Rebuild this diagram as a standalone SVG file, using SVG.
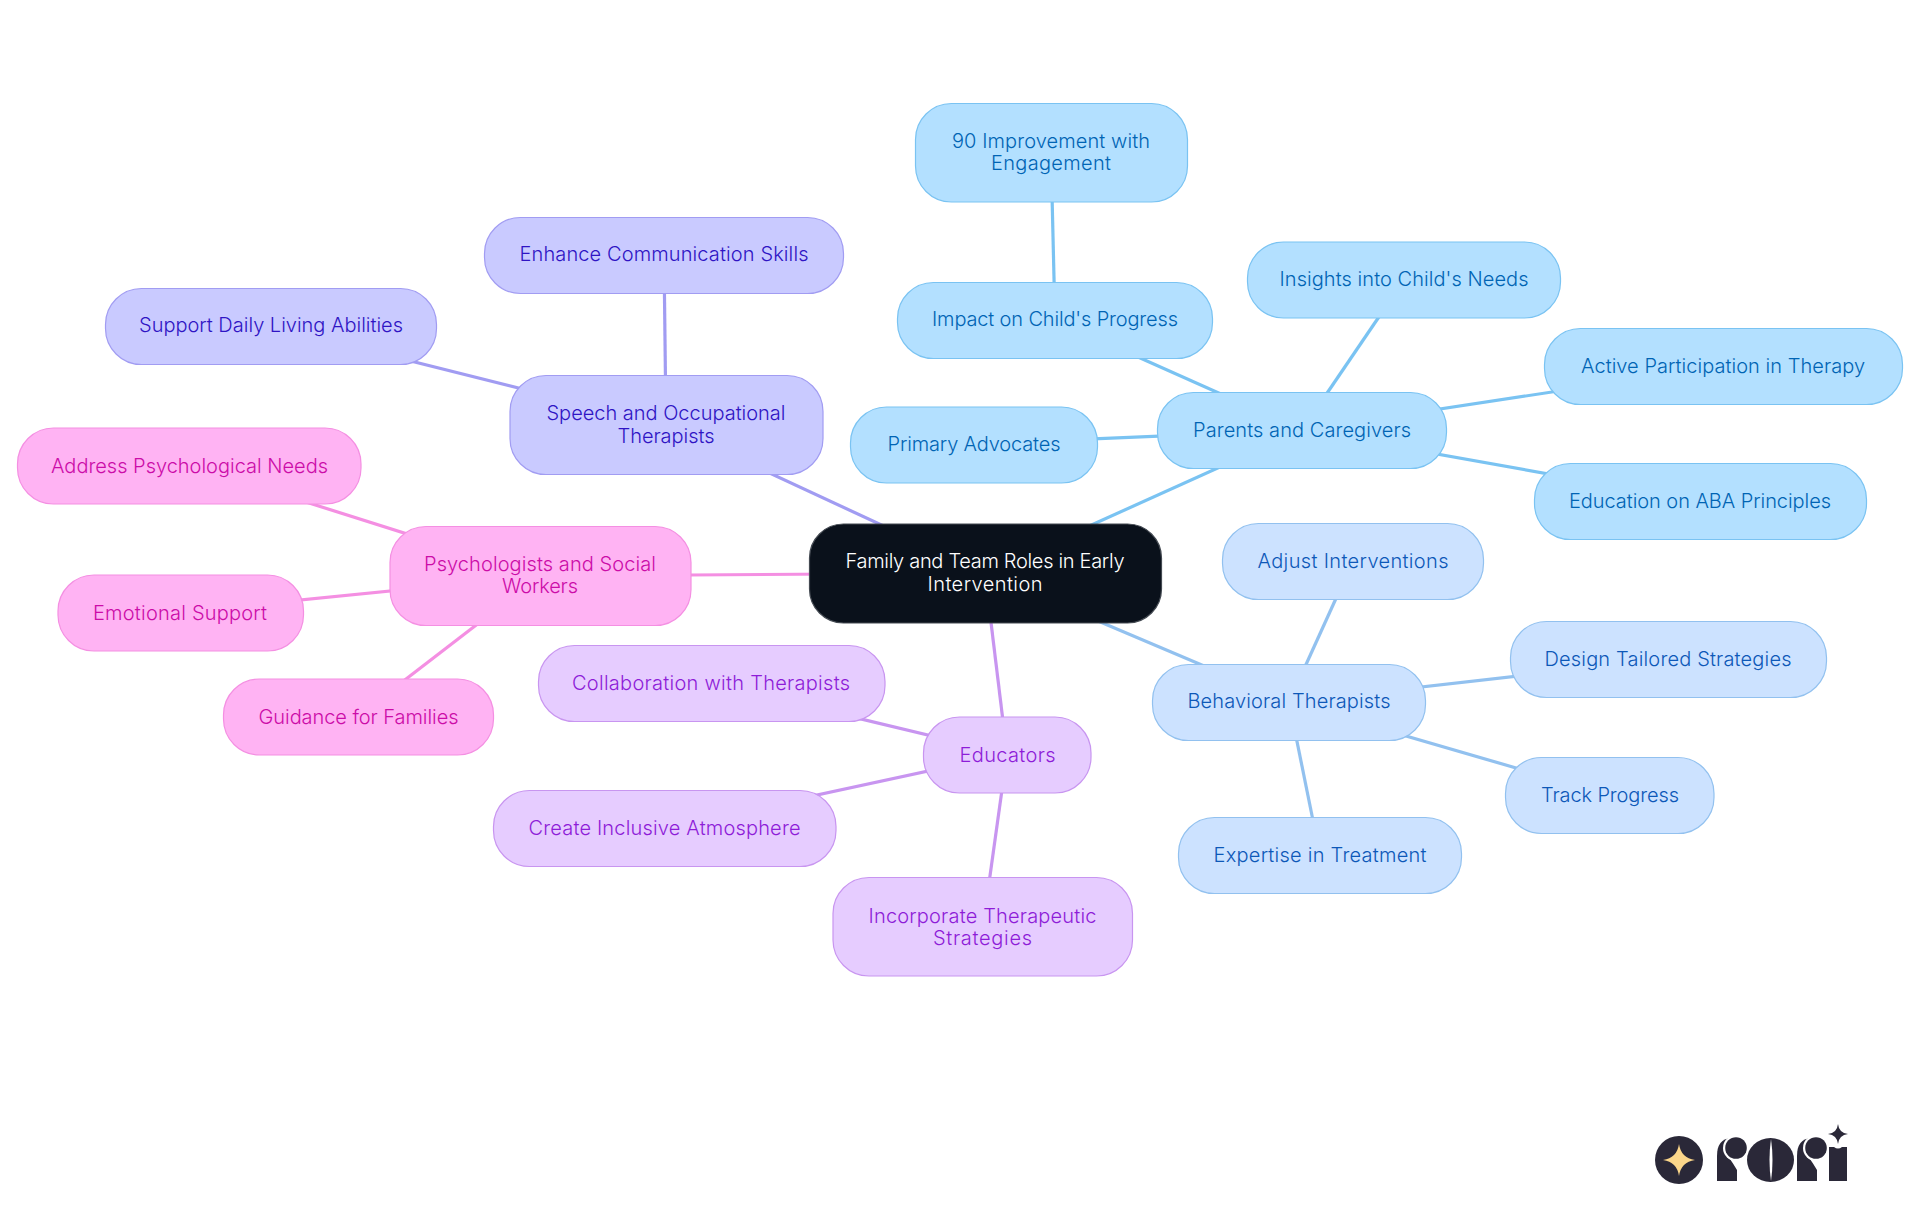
<svg xmlns="http://www.w3.org/2000/svg" width="1920" height="1215" viewBox="0 0 1920 1215">
<style>
text{font-family:"Inter","Noto Sans","Liberation Sans",sans-serif;font-size:20px;font-weight:300;text-anchor:middle}
rect{stroke-width:1.2}
line{stroke-width:3.2;fill:none}
.b rect{fill:#b3e0ff;stroke:#7ac3f2}.b text{fill:#0064b4}
.c rect{fill:#cce2ff;stroke:#92c1ef}.c text{fill:#0d58b8}
.t rect{fill:#c9caff;stroke:#a19cf2}.t text{fill:#2f14c4}
.p rect{fill:#ffb3f3;stroke:#f48fe2}.p text{fill:#cc0ca8}
.e rect{fill:#e6ccff;stroke:#c895f0}.e text{fill:#8e1cd8}
.lb{stroke:#7ac3f2}.lc{stroke:#92c1ef}.lt{stroke:#a19cf2}.lp{stroke:#f48fe2}.le{stroke:#c895f0}
</style>
<rect width="1920" height="1215" fill="#fff" style="stroke:none"/>
<g id="connectors">
<line class="lb" x1="985" y1="573" x2="1302" y2="430"/>
<line class="lb" x1="1302" y1="430" x2="1055" y2="320"/>
<line class="lb" x1="1055" y1="320" x2="1051" y2="152"/>
<line class="lb" x1="1302" y1="430" x2="974" y2="444"/>
<line class="lb" x1="1302" y1="430" x2="1404" y2="280"/>
<line class="lb" x1="1302" y1="430" x2="1723" y2="366"/>
<line class="lb" x1="1302" y1="430" x2="1700" y2="501"/>
<line class="lc" x1="985" y1="573" x2="1289" y2="702"/>
<line class="lc" x1="1289" y1="702" x2="1353" y2="561"/>
<line class="lc" x1="1289" y1="702" x2="1668" y2="659"/>
<line class="lc" x1="1289" y1="702" x2="1609" y2="795"/>
<line class="lc" x1="1289" y1="702" x2="1320" y2="855"/>
<line class="le" x1="985" y1="573" x2="1007" y2="754"/>
<line class="le" x1="1007" y1="754" x2="711" y2="683"/>
<line class="le" x1="1007" y1="754" x2="664" y2="828"/>
<line class="le" x1="1007" y1="754" x2="983" y2="926"/>
<line class="lp" x1="985" y1="573" x2="540" y2="576"/>
<line class="lp" x1="540" y1="576" x2="189" y2="465"/>
<line class="lp" x1="540" y1="576" x2="181" y2="612"/>
<line class="lp" x1="540" y1="576" x2="358" y2="716"/>
<line class="lt" x1="985" y1="573" x2="666" y2="425"/>
<line class="lt" x1="666" y1="425" x2="664" y2="255"/>
<line class="lt" x1="666" y1="425" x2="271" y2="326"/>
</g>
<g id="root"><rect x="809.500" y="524" width="352" height="99" rx="34" fill="#0a111b" stroke="#444a52"/><text x="985" y="568" fill="#fff" textLength="279">Family and Team Roles in Early</text><text x="985" y="591" fill="#fff" textLength="115">Intervention</text></g>
<g id="parents" class="b"><rect x="1157.500" y="392.500" width="289" height="76" rx="36"/><text x="1302" y="437" textLength="218">Parents and Caregivers</text></g>
<g id="primary" class="b"><rect x="850.500" y="407" width="247" height="76" rx="36"/><text x="974" y="451" textLength="173">Primary Advocates</text></g>
<g id="impact" class="b"><rect x="897.500" y="282.500" width="315" height="76" rx="36"/><text x="1055" y="326" textLength="246">Impact on Child's Progress</text></g>
<g id="improvement" class="b"><rect x="915.500" y="103.500" width="272" height="98.500" rx="36"/><text x="1051" y="148" textLength="198">90 Improvement with</text><text x="1051" y="170" textLength="120">Engagement</text></g>
<g id="insights" class="b"><rect x="1247.500" y="242" width="313" height="76" rx="36"/><text x="1404" y="286" textLength="249">Insights into Child's Needs</text></g>
<g id="active" class="b"><rect x="1544.500" y="328.500" width="358" height="76" rx="36"/><text x="1723" y="373" textLength="284">Active Participation in Therapy</text></g>
<g id="education" class="b"><rect x="1534.500" y="463.500" width="332" height="76" rx="36"/><text x="1700" y="508" textLength="262">Education on ABA Principles</text></g>
<g id="behavioral" class="c"><rect x="1152.500" y="664.500" width="273" height="76" rx="36"/><text x="1289" y="708" textLength="203">Behavioral Therapists</text></g>
<g id="adjust" class="c"><rect x="1222.500" y="523.500" width="261" height="76" rx="36"/><text x="1353" y="568" textLength="191">Adjust Interventions</text></g>
<g id="design" class="c"><rect x="1510.500" y="621.500" width="316" height="76" rx="36"/><text x="1668" y="666" textLength="247">Design Tailored Strategies</text></g>
<g id="track" class="c"><rect x="1505.500" y="757.500" width="208.500" height="76" rx="36"/><text x="1610" y="802" textLength="138">Track Progress</text></g>
<g id="expertise" class="c"><rect x="1178.500" y="817.500" width="283" height="76" rx="36"/><text x="1320" y="862" textLength="213">Expertise in Treatment</text></g>
<g id="educators" class="e"><rect x="923.500" y="717" width="167.500" height="76" rx="36"/><text x="1007.500" y="762" textLength="96">Educators</text></g>
<g id="collab" class="e"><rect x="538.500" y="645.500" width="346.500" height="76" rx="36"/><text x="711" y="690" textLength="278">Collaboration with Therapists</text></g>
<g id="create" class="e"><rect x="493.500" y="790.500" width="342.500" height="76" rx="36"/><text x="664.500" y="835" textLength="272">Create Inclusive Atmosphere</text></g>
<g id="incorporate" class="e"><rect x="833" y="877.500" width="299.500" height="98.500" rx="36"/><text x="982.500" y="923" textLength="228">Incorporate Therapeutic</text><text x="982.500" y="945" textLength="99">Strategies</text></g>
<g id="psych" class="p"><rect x="390" y="526.500" width="301" height="99" rx="36"/><text x="540" y="571" textLength="232">Psychologists and Social</text><text x="540" y="593" textLength="76">Workers</text></g>
<g id="address" class="p"><rect x="17.500" y="428" width="343.500" height="76" rx="36"/><text x="189.500" y="473" textLength="277">Address Psychological Needs</text></g>
<g id="emotional" class="p"><rect x="58" y="575" width="245.500" height="76" rx="36"/><text x="180" y="620" textLength="174">Emotional Support</text></g>
<g id="guidance" class="p"><rect x="223.500" y="679" width="270" height="76" rx="36"/><text x="358.500" y="724" textLength="200">Guidance for Families</text></g>
<g id="speech" class="t"><rect x="510" y="375.500" width="313" height="99" rx="36"/><text x="666" y="420" textLength="239">Speech and Occupational</text><text x="666" y="443" textLength="97">Therapists</text></g>
<g id="enhance" class="t"><rect x="484.500" y="217.500" width="359" height="76" rx="36"/><text x="664" y="261" textLength="289">Enhance Communication Skills</text></g>
<g id="support" class="t"><rect x="105.500" y="288.500" width="331" height="76" rx="36"/><text x="271" y="332" textLength="264">Support Daily Living Abilities</text></g>
<g id="logo" fill="#2a2838">
<circle cx="1679" cy="1160" r="24"/>
<path d="M1679 1144Q1681 1158 1695 1160Q1681 1162 1679 1176Q1677 1162 1663 1160Q1677 1158 1679 1144Z" fill="#fbd68a"/>
<path d="M1717 1181V1156Q1717 1139 1731 1138H1737V1181Z"/>
<circle cx="1736" cy="1148" r="13" fill="#fff"/><path d="M1724 1152Q1730 1158 1737 1170V1152Z" fill="#fff"/><circle cx="1736" cy="1148" r="10.800"/>
<ellipse cx="1770.500" cy="1160" rx="23.500" ry="22"/>
<path d="M1771 1139Q1768 1160 1771 1181Q1774 1160 1771 1139Z" fill="#fff"/>
<path d="M1797 1181V1156Q1797 1139 1811 1138H1817V1181Z"/>
<circle cx="1816" cy="1148" r="13" fill="#fff"/><path d="M1804 1152Q1810 1158 1817 1170V1152Z" fill="#fff"/><circle cx="1816" cy="1148" r="10.800"/>
<path d="M1829 1147H1834Q1838 1150 1842 1147H1847V1181H1829Z"/>
<path d="M1838 1124Q1839 1133 1848 1134Q1839 1135 1838 1144Q1837 1135 1828 1134Q1837 1133 1838 1124Z"/>
</g>
</svg>
